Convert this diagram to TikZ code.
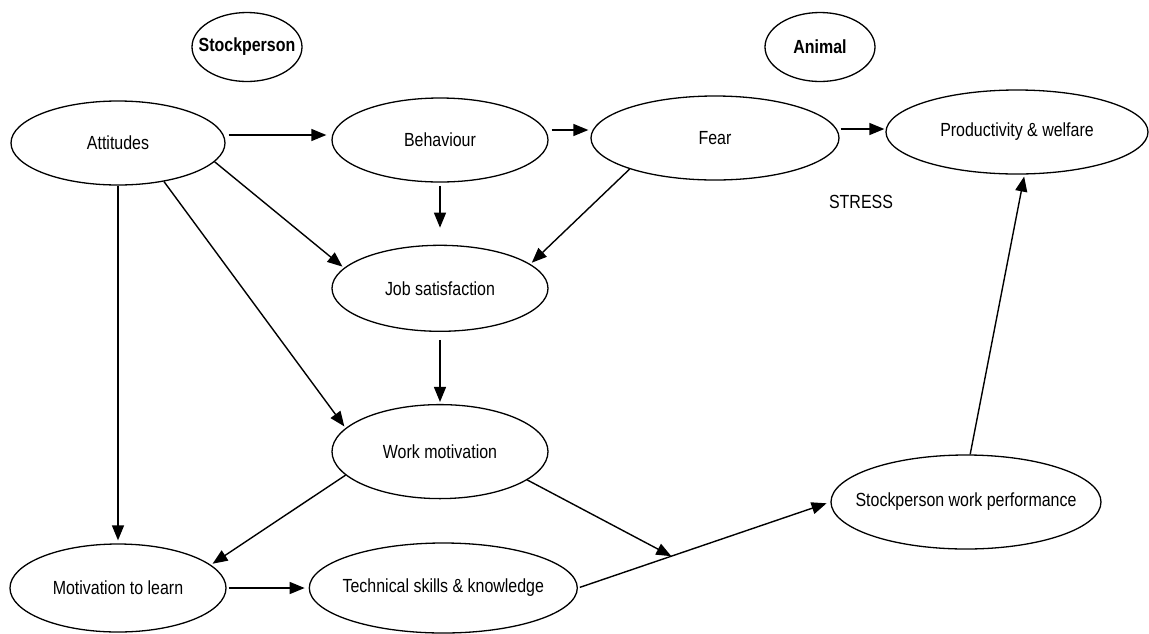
\documentclass[tikz,border=0pt]{standalone}
\usepackage{fontspec}
\setmainfont[FakeStretch=0.84]{Liberation Sans}
\usetikzlibrary{shapes.geometric}
\usetikzlibrary{arrows.meta}
\usetikzlibrary{positioning}

\begin{document}
\begin{tikzpicture}[
  x=1pt, y=-1pt,
  node distance=0mm,
  oval/.style={draw, ellipse, line width=1.3pt, inner xsep=-40pt, inner ysep=0pt, font=\fontsize{19}{21}\selectfont},
  head/.style={oval, font=\bfseries\fontsize{19}{21}\selectfont, minimum width=110pt, minimum height=69pt},
  arr/.style={-{Triangle[length=15pt,width=12pt]}, line width=1.4pt}
]
\useasboundingbox (0,0) rectangle (1149,633);

\node[head] (sp) at (247,47) {Stockperson};
\node[head] (an) at (820,47) {Animal};

\node[oval, minimum width=214pt, minimum height=84pt] (att) at (118,143) {Attitudes};
\node[oval, minimum width=216pt, minimum height=84pt] (beh) at (440,140) {Behaviour};
\node[oval, minimum width=248pt, minimum height=84pt] (fear) at (715,138) {Fear};
\node[oval, minimum width=262pt, minimum height=84pt] (prod) at (1017,132) {Productivity \& welfare};
\node[font=\fontsize{19}{21}\selectfont] (stress) at (861,202) {STRESS};

\node[oval, minimum width=216pt, minimum height=86pt, below=62pt of beh] (job) {Job satisfaction};
\node[oval, minimum width=216pt, minimum height=94pt, below=72pt of job] (work) {Work motivation};
\node[oval, minimum width=216pt, minimum height=88pt] (learn) at (118,588) {Motivation to learn};
\node[oval, minimum width=268pt, minimum height=90pt, right=82pt of learn] (tech) {Technical skills \& knowledge};
\node[oval, minimum width=270pt, minimum height=94pt] (perf) at (966,502) {Stockperson work performance};

% top row
\draw[arr, shorten <=3pt, shorten >=5pt] ([yshift=8pt]att.east) -- ([yshift=8pt]att.east -| beh.west);
\draw[arr, shorten <=3pt, shorten >=2pt] ([yshift=10pt]beh.east) -- ([yshift=10pt]beh.east -| fear.west);
\draw[arr, shorten <=1pt, shorten >=1pt] ([yshift=9pt]fear.east) -- ([yshift=9pt]fear.east -| prod.west);

% into job satisfaction
\draw[arr, shorten <=3pt, shorten >=17pt] (beh.south) -- (job.north);
\draw[arr, shorten >=2pt] (fear.200) -- (job.15);
\draw[arr, shorten >=2pt] (att.-11) -- (job.168);

% into work motivation
\draw[arr, shorten >=2pt] (att.-40) -- (work.166);
\draw[arr, shorten <=8pt, shorten >=2pt] (job.south) -- (work.north);

% bottom row
\draw[arr, shorten >=3pt] (att.south) -- (learn.north);
\draw[arr, shorten >=2pt] (work.194) -- (learn.14);
\draw[arr, shorten <=2pt, shorten >=4pt] (learn.east) -- (tech.west);
\draw[arr, shorten <=2pt, shorten >=4pt] (tech.east) -- coordinate[pos=.37] (mid) (perf.west);
\draw[arr] (work.-18) -- (mid);
\draw[arr, shorten >=2pt] (perf.85) -- (prod.-80);
\end{tikzpicture}
\end{document}
